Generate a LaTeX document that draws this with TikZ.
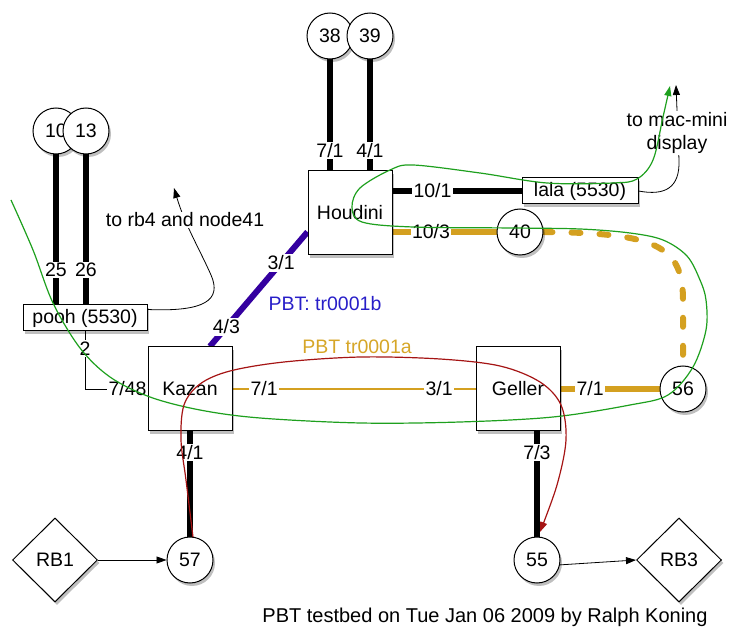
\documentclass[tikz,border=0pt]{standalone}
\usepackage{fontspec}
\setmainfont{Liberation Sans}
\usetikzlibrary{shapes.geometric,shadows,arrows.meta,calc,backgrounds}
\definecolor{gold}{RGB}{212,160,32}
\definecolor{goldtxt}{RGB}{214,166,40}
\definecolor{pbtpurple}{RGB}{52,0,160}
\definecolor{pbtblue}{RGB}{40,30,200}
\definecolor{pathgreen}{RGB}{30,160,30}
\definecolor{pathred}{RGB}{165,20,20}
\begin{document}
\begin{tikzpicture}[x=1pt,y=-1pt,font=\fontsize{19.5}{22}\selectfont,
  shad/.style={drop shadow={shadow xshift=2pt,shadow yshift=-3pt,opacity=0.25,fill=black}},
  port/.style={circle,draw,line width=1pt,fill=white,minimum size=46pt,inner sep=0pt,shad},
  box/.style={rectangle,draw,line width=1pt,fill=white,inner sep=0pt,shad},
  sw/.style={box,minimum width=84pt,minimum height=84pt},
  dia/.style={diamond,draw,line width=1pt,fill=white,minimum width=85pt,minimum height=84pt,inner sep=0pt,shad},
  thk/.style={line width=6pt},
  lbl/.style={fill=white,inner sep=1.5pt},
  tip/.style={-{Triangle[length=10pt,width=7pt]}}
]
\path[use as bounding box] (0,0) rectangle (729,628);

% nodes
\node[port] (c10) at (56,131) {10};
\node[port] (c13) at (86,131) {13};
\node[box,minimum width=124pt,minimum height=26pt] (pooh) at (85,318) {pooh (5530)};
\node[port] (c38) at (330,36) {38};
\node[port] (c39) at (370,36) {39};
\node[sw] (hou) at (350,213) {Houdini};
\node[box,minimum width=116pt,minimum height=26pt] (lala) at (580,191) {lala (5530)};
\node[port] (c40) at (520,232) {40};
\node[sw] (kaz) at (190,389) {Kazan};
\node[sw] (gel) at (518,389) {Geller};
\node[port] (c56) at (683,389) {56};
\node[port] (c57) at (190,560) {57};
\node[port] (c55) at (537,560) {55};
\node[dia] (rb1) at (55,560) {RB1};
\node[dia] (rb3) at (679,560) {RB3};

% links
\begin{scope}[on background layer]
\draw[thk] (c10.south) -- (c10 |- pooh.north) node[lbl,pos=0.77] {25};
\draw[thk] (c13.south) -- (c13 |- pooh.north) node[lbl,pos=0.77] {26};
\draw[thk] (c38.south) -- (c38 |- hou.north) node[lbl,pos=0.82] {7/1};
\draw[thk] (c39.south) -- (c39 |- hou.north) node[lbl,pos=0.82] {4/1};
\draw[thk] (hou.east |- lala.west) -- (lala.west) node[lbl,pos=0.31] {10/1};
\draw[thk,gold] (hou.east |- c40.west) -- (c40.west) node[lbl,pos=0.37,text=black] {10/3};
\draw[thk,gold,dash pattern=on 9pt off 19pt,line cap=round]
  (c40.east) .. controls (655,233) and (683,245) .. (683,300) -- (c56.north);
\draw[thk,pbtpurple] (kaz.65) -- (hou.204)
  node[lbl,pos=0.17,text=black] {4/3} node[lbl,pos=0.73,text=black] {3/1};
\draw[line width=1.5pt,gold] (kaz.east) -- (gel.west)
  node[lbl,pos=0.13,text=black] {7/1} node[lbl,pos=0.85,text=black] {3/1};
\draw[thk,gold] (gel.east) -- (c56.west) node[lbl,pos=0.3,text=black] {7/1};
\draw[thk] (kaz.south) -- (c57.north) node[lbl,pos=0.2] {4/1};
\draw[thk] (gel.south -| c55) -- (c55.north) node[lbl,pos=0.2] {7/3};
\draw[line width=0.8pt] (pooh.south) |- (kaz.west)
  node[lbl,pos=0.15] {2} node[lbl,pos=0.84] {7/48};
\end{scope}

\draw[line width=0.8pt,tip] (rb1.east) -- (c57.west);
\draw[line width=0.8pt,tip] (c55.-12) -- (rb3.west);

% annotations
\coordinate (rbtip) at (174,188);
\draw[line width=0.8pt,tip] ($(pooh.north east)+(0,5)$) .. controls (205,312) and (222,300) .. (211,275)
  .. controls (200,250) and (185,225) .. (rbtip);
\node[fill=white,inner sep=1pt] (rbtxt) at (185,220) {to rb4 and node41};

\coordinate (mactip) at (676,85);
\draw[line width=0.8pt,tip] (lala.east) .. controls (665,196) and (680,188) .. (679,160) -- (mactip);
\node[fill=white,inner sep=1pt,align=center,font=\fontsize{19.5}{23}\selectfont] (mactxt) at (677,133) {to mac-mini\\display};

\node[text=pbtblue] (pbtb) at (325,304) {PBT: tr0001b};
\node[text=goldtxt] (pbta) at (357,347) {PBT tr0001a};

% paths
\draw[pathgreen,line width=1.2pt,-{Triangle[length=10pt,width=7pt]}] plot[smooth,tension=0.55] coordinates {
 (11,200) (33,250) (53,303) (80,348) (110,377) (150,397) (200,410) (260,418) (361,423) (460,422)
 (553,417) (630,405) (668,395) (693,367) (706,330) (706,300) (700,280) (687,256) (663,240)
 (630,233) (580,229) (513,228) (413,227) (362,222) (352,207) (360,188) (390,170) (413,165)
 (480,173) (547,183) (613,183) (637,179) (653,160) (663,117) (670,86)};
\draw[pathred,line width=1.2pt,-{Triangle[length=10pt,width=7pt]}] plot[smooth,tension=0.55] coordinates {
 (193,537) (186,480) (181,440) (184,405) (200,384) (230,371) (284,362) (361,357) (440,359)
 (500,366) (540,382) (561,405) (566,440) (557,485) (540,532)};

\node[font=\fontsize{20}{22}\selectfont] (foot) at (485,617) {PBT testbed on Tue Jan 06 2009 by Ralph Koning};
\end{tikzpicture}
\end{document}
